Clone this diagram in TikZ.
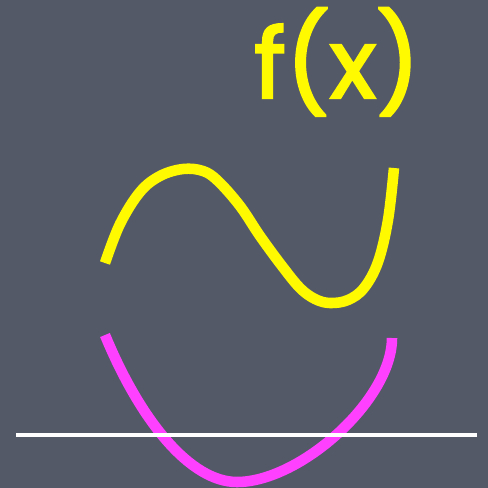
\documentclass[tikz,border=0pt]{standalone}
\usepackage{fontspec}
\usepackage{tikz}
\newfontfamily\chalkfont[FakeBold=2.5]{Poppins}
\definecolor{cBoard}{RGB}{84,89,103}
\definecolor{cYel}{RGB}{255,250,0}
\definecolor{cMag}{RGB}{255,64,255}
\tikzset{
  curve/.style={line width=6pt},
  axisline/.style={white,line width=2.8pt}
}
\begin{document}
\begin{tikzpicture}[x=0.02cm,y=-0.02cm]
\fill[cBoard] (0,0) rectangle (488,488);
\node[anchor=base,text=cYel,font=\chalkfont\fontsize{55}{55}\selectfont,inner sep=0pt] (fx) at (337,98) {f(x)};
% f(x)
\draw[curve,cYel] plot[smooth,tension=0.6] coordinates {(105,263) (120,224) (140,192) (160,176) (183,169) (203,171) (218,181) (240,206) (260,236) (282,266) (300,288) (315,299) (330,303) (348,300) (364,288) (378,262) (388,220) (394,168)};
% parabola
\draw[curve,cMag] (105,335) .. controls (140,420) and (190,482) .. (237,482)
  .. controls (300,482) and (392,400) .. (392,338);
\draw[axisline] (16,435) -- (477,435);
\end{tikzpicture}
\end{document}
